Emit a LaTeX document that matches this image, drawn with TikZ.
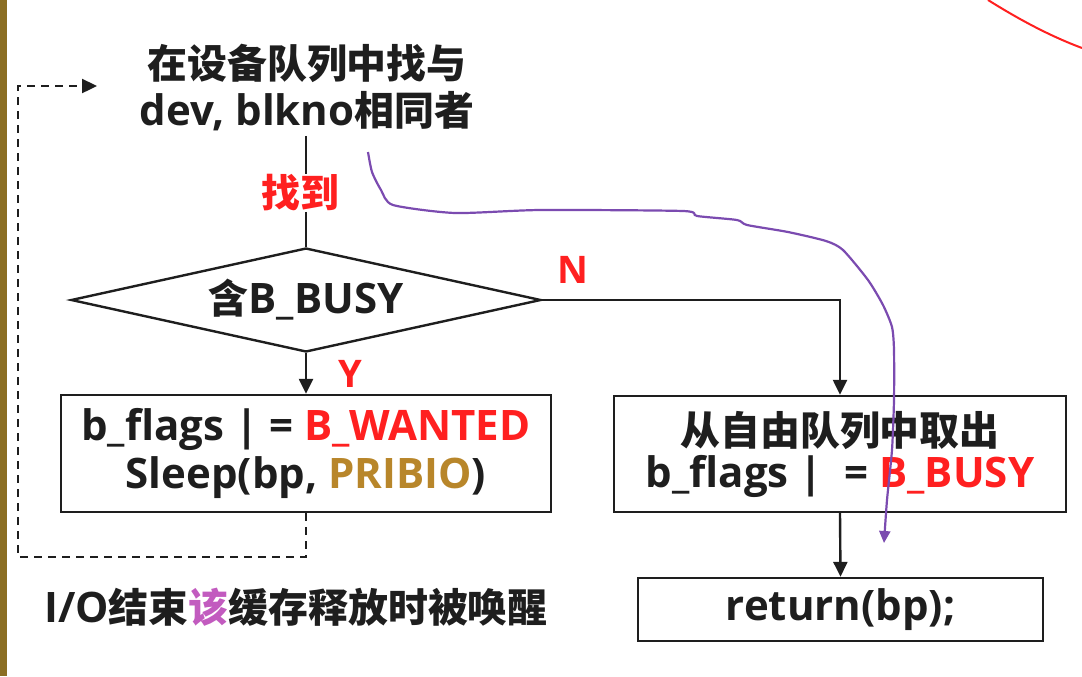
\documentclass[tikz,border=0pt]{standalone}
\usepackage{fontspec}
\usepackage{xcolor}
\setmainfont{Open Sans}
\newfontfamily\zh{Noto Sans CJK SC}[Scale=0.95]
\usetikzlibrary{shapes.geometric,arrows.meta}
\definecolor{ink}{HTML}{1E1E1E}
\definecolor{alertred}{HTML}{FF2020}
\definecolor{pribio}{HTML}{B8862A}
\definecolor{wakepink}{HTML}{C25BBF}
\definecolor{penpurple}{HTML}{7B4BB0}
\definecolor{barbrown}{HTML}{8B6E23}
\tikzset{
    flow-text/.style = {text=ink, font=\fontsize{21}{24}\selectfont\bfseries, inner sep=2pt, align=center},
    flow-box/.style = {flow-text, draw=ink, line width=1.2pt, rectangle},
    flow-decision/.style = {flow-text, draw=ink, line width=1.2pt, diamond, aspect=4.5, inner sep=0pt, minimum width=235pt, minimum height=52pt},
    flow-label/.style = {text=alertred, font=\fontsize{19}{21}\selectfont\bfseries, inner sep=0pt},
    flow-line/.style = {draw=ink, line width=1.2pt},
    flow-arrow/.style = {flow-line, -{Triangle[length=7.5pt,width=7pt]}},
    loop-line/.style = {flow-arrow, dash pattern=on 4pt off 3pt},
    pen-line/.style = {draw=penpurple, line width=1.1pt, -{Triangle[length=6pt,width=5.5pt]}},
}

\begin{document}
\begin{tikzpicture}[x=0.5pt, y=-0.5pt]
\useasboundingbox (0,0) rectangle (1082,676);
\fill[barbrown] (0,0) rectangle (7,676);
\draw[alertred, line width=1pt] (988,0) .. controls (1020,20) and (1050,36) .. (1082,48);

% the flow chart
\node[flow-text, font=\fontsize{21}{23.5}\selectfont\bfseries] (search) at (307,88) {{\zh 在设备队列中找与}\\dev, blkno{\zh 相同者}};
\node[flow-label] (found) at (300,193) {{\zh\fontsize{20.5}{22}\selectfont 找到}};
\node[flow-decision] (busy) at (306,300) {{\zh 含}B\_BUSY};
\node[flow-label] (yes) at (350,374) {Y};
\node[flow-label] (no) at (573,270) {N};
\node[flow-box, minimum width=245pt, minimum height=58.5pt] (wait) at (306,453.5) {b\_flags | = \textcolor{alertred}{B\_WANTED}\\Sleep(bp, \textcolor{pribio}{PRIBIO})};
\node[flow-box, font=\fontsize{21}{21}\selectfont\bfseries, minimum width=226pt, minimum height=58pt] (take) at (840,454) {{\zh 从自由队列中取出}\\b\_flags |\ \ = \textcolor{alertred}{B\_BUSY}};
\node[flow-box, minimum width=202.5pt, minimum height=31.5pt] (ret) at (840.5,609.5) {return(bp);};
\node[flow-text] (wake) at (296,607) {I/O{\zh 结束\textcolor{wakepink}{该}缓存释放时被唤醒}};

\coordinate (loop-turn) at (18,557);
\coordinate (loop-end) at (97,86);

\draw[flow-line] (search.south -| busy.north) -- (found.north -| busy.north);
\draw[flow-line] (found.south -| busy.north) -- (busy.north);
\draw[flow-arrow] (busy.south) -- (wait.north);
\draw[flow-arrow] (busy.east) -| (take.north);
\draw[flow-arrow] (take.south) -- (ret.north);
\draw[loop-line] (wait.south) |- (loop-turn) |- (loop-end);

% hand drawn mark
\draw[pen-line] plot[smooth, tension=0.4] coordinates {(368,152) (372,172) (381,190) (393,205) (455,213) (540,210) (683,211) (697,216) (737,220) (747,225) (788,232) (826,241) (843,250) (868,280) (883,305) (892,327) (894,350) (894,400) (892,450) (887,500) (884,543)};
\end{tikzpicture}
\end{document}
